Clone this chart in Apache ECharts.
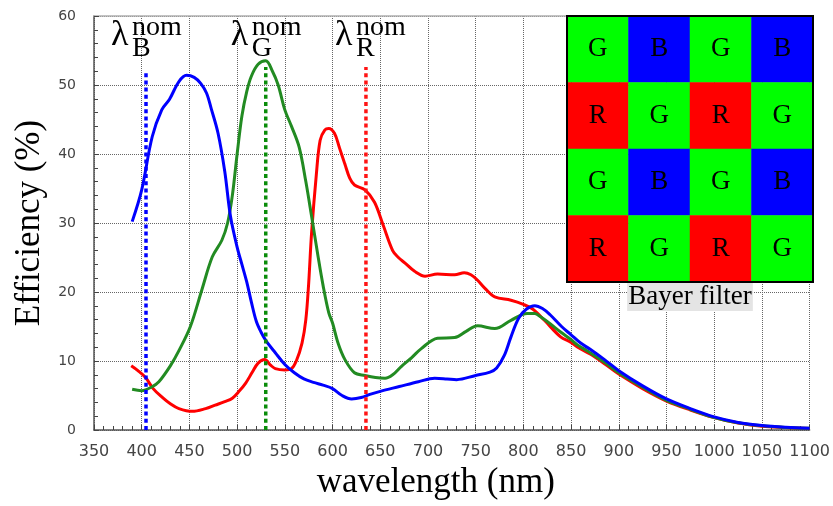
<!DOCTYPE html>
<html><head><meta charset="utf-8">
<script src="https://cdn.jsdelivr.net/npm/echarts@6/dist/echarts.min.js"></script>
<style>html,body{margin:0;padding:0;background:#fff}#c{width:833px;height:506px}</style>
</head><body><div id="c"></div>
<script>
// ---- data ----
const xTicks = [350,400,450,500,550,600,650,700,750,800,850,900,950,1000,1050,1100];
const yTicks = [0,10,20,30,40,50,60];

const blueNm  = [390,400,411,421,429,439,447,455,462,468,473,480,487,493,500,505,510,515,520,525,530,540,550,560,570,580,590,600,610,620,630,640,650,670,690,707,720,730,750,765,772,780,787,795,803,812,820,828,840,850,860,870,885,900,925,950,975,1000,1025,1050,1075,1100];
const blueEff = [30.2,34.8,42.5,46.4,47.9,50.5,51.4,51.1,50.2,48.8,46.5,43,37.5,31,26.5,24,21.5,18.5,15.8,14.2,13.0,11.2,9.5,8.3,7.4,6.9,6.5,6.0,5.0,4.5,4.7,5.2,5.6,6.3,7.0,7.5,7.4,7.3,7.9,8.4,9.0,10.8,13.5,16.2,17.5,18.0,17.6,16.7,15.0,13.8,12.6,11.7,10.2,8.6,6.4,4.5,3.1,1.9,1.1,0.65,0.4,0.25];

const greenNm  = [390,400,410,418,430,439,451,463,474,484,490,495,500,505,510,515,522,530,537,543,550,557,565,572,578,585,590,596,600,606,613,623,634,645,655,663,672,683,693,710,728,740,752,770,787,804,812,818,828,839,850,857,870,885,900,925,950,975,1000,1025,1050,1075,1100];
const greenEff = [5.9,5.7,6.2,7.0,9.3,11.5,15.0,20.3,25.1,27.5,30,34,40,45.5,49,51.3,53,53.5,52,50,46.4,44,41,36,31,25,21,17,15.5,12.5,10.2,8.3,7.9,7.6,7.5,8.0,9.2,10.5,11.8,13.3,13.4,14.3,15.1,14.7,15.9,16.9,16.9,16.4,15.4,14.2,13.1,12.3,11.2,9.8,8.3,6.2,4.3,3.0,1.8,1.05,0.6,0.38,0.25];

const redNm  = [389,396,404,412,421,430,439,453,467,477,487,495,502,509,516,522,529,535,540,550,557,562,568,572,575,578,583,587,592,596,602,607,613,618,623,634,644,653,663,669,676,686,697,710,728,738,745,752,760,770,787,800,810,822,839,850,857,870,885,900,925,950,975,1000,1025,1050,1075,1100];
const redEff = [9.3,8.6,7.6,6.0,4.8,3.8,3.1,2.7,3.1,3.6,4.1,4.6,5.6,6.8,8.4,9.7,10.2,9.4,8.9,8.7,8.9,10.0,12.6,16,21.3,28.5,37,42,43.5,43.7,43,41,38.5,36.5,35.5,34.8,33,29.7,26,25,24.2,23,22.3,22.6,22.5,22.8,22.5,21.7,20.5,19.3,18.8,18.2,17.5,15.9,13.5,12.7,12.0,11.0,9.6,8.1,6.0,4.2,2.9,1.8,1.0,0.55,0.35,0.2];

const nomNames = ['B','G','R'];
const nomNm    = [404.5, 530, 635];
const nomTop   = [52, 52.6, 52.6];

const bayerRows = ['GBGB','RGRG','GBGB','RGRG'];
const bayerCols = ['c1','c2','c3','c4'];
const bayerRowCats = ['r1','r2','r3','r4'];

// ---- styles ----
const C = {B:'#0000ff', G:'#228b22', R:'#ff0000'};
const dotC = {B:'#0000ff', G:'#0a8c0a', R:'#ff1414'};
const cellC = {B:'#0000ff', G:'#00ff00', R:'#ff0000'};
const zip = (a,b)=>a.map((v,i)=>[v,b[i]]);

const chart = echarts.init(document.getElementById('c'), null, {renderer:'canvas'});

const heat = [];
bayerRows.forEach((row,ri)=>row.split('').forEach((ch,ci)=>{
  heat.push({value:[ci,ri,1], letter:ch, itemStyle:{color:cellC[ch]}});
}));

const series = [
  {type:'line', data:zip(redNm,redEff), smooth:0.35, symbol:'none', lineStyle:{color:C.R,width:3}, z:3},
  {type:'line', data:zip(greenNm,greenEff), smooth:0.35, symbol:'none', lineStyle:{color:C.G,width:3}, z:4},
  {type:'line', data:zip(blueNm,blueEff), smooth:0.35, symbol:'none', lineStyle:{color:C.B,width:3}, z:5},
];
nomNm.forEach((nm,i)=>{
  series.push({type:'line', data:[[nm,0],[nm,nomTop[i]]], symbol:'none', z:6,
    lineStyle:{color:dotC[nomNames[i]], width:3.5, type:[4,3.2]}});
});
series.push({type:'heatmap', xAxisIndex:2, yAxisIndex:1, data:heat, z:10,
  itemStyle:{borderWidth:0},
  label:{show:true, formatter:p=>p.data.letter, fontFamily:'Liberation Serif', fontSize:27, color:'#000'},
  emphasis:{disabled:true}});

const option = {
  animation:false,
  grid:[
    {left:94, right:20, top:16, bottom:76},
    {left:567, top:16, width:246, height:266, show:true, borderColor:'#000', borderWidth:2, backgroundColor:'transparent', z:11}
  ],
  xAxis:[
    {type:'value', gridIndex:0, min:350, max:1100, interval:50,
     name:'wavelength (nm)', nameLocation:'middle', nameGap:31,
     nameTextStyle:{fontFamily:'Liberation Serif', fontSize:35, color:'#000', padding:[0,32,0,0]},
     axisLine:{lineStyle:{color:'#555', width:1.5}},
     axisTick:{show:true, inside:true, length:5, lineStyle:{color:'#444'}},
     minorTick:{show:true, splitNumber:5, length:4, lineStyle:{color:'#444'}},
     axisLabel:{fontFamily:'DejaVu Sans', fontSize:16, color:'#444', margin:14, formatter:v=>String(v)},
     splitLine:{show:true, lineStyle:{color:'#666', type:'dotted', width:1}}},
    {type:'value', gridIndex:0, position:'top', min:350, max:1100,
     axisLine:{show:true, lineStyle:{color:'#b0b0b0', width:1.5}},
     axisTick:{show:false}, axisLabel:{show:false}, splitLine:{show:false}},
    {type:'category', gridIndex:1, data:bayerCols, position:'bottom',
     name:'Bayer filter', nameLocation:'middle', nameGap:1,
     nameTextStyle:{fontFamily:'Liberation Serif', fontSize:27, color:'#000', backgroundColor:'#e4e4e4', padding:[0,1,0,1], lineHeight:28},
     axisLine:{show:false}, axisTick:{show:false}, axisLabel:{show:false}, splitLine:{show:false}}
  ],
  yAxis:[
    {type:'value', gridIndex:0, min:0, max:60, interval:10,
     name:'Efficiency (%)', nameLocation:'middle', nameGap:44,
     nameTextStyle:{fontFamily:'Liberation Serif', fontSize:35, color:'#000'},
     axisLine:{show:true, lineStyle:{color:'#555', width:1.5}},
     axisTick:{show:true, inside:true, length:5, lineStyle:{color:'#444'}},
     minorTick:{show:true, splitNumber:5, length:4, lineStyle:{color:'#444'}},
     axisLabel:{fontFamily:'DejaVu Sans', fontSize:14, color:'#444', margin:18},
     splitLine:{show:true, lineStyle:{color:'#666', type:'dotted', width:1}}},
    {type:'category', gridIndex:1, data:bayerRowCats, inverse:true, show:false}
  ],
  series
};
chart.setOption(option);

// lambda annotations positioned through the x axis scale
const lamOff = [-35,-35,-31];
const graphic = [];
nomNm.forEach((nm,i)=>{
  const px = chart.convertToPixel({xAxisIndex:0}, nm);
  const x0 = px + lamOff[i];
  graphic.push({type:'text', x:x0, y:36, z:20, style:{text:'λ', font:'36px "Liberation Serif"', fill:'#000', textVerticalAlign:'middle', textAlign:'left'}});
  graphic.push({type:'text', x:x0+21, y:28, z:20, style:{text:'nom', font:'28px "Liberation Serif"', fill:'#000', textVerticalAlign:'middle', textAlign:'left'}});
  graphic.push({type:'text', x:x0+21, y:49, z:20, style:{text:nomNames[i], font:'28px "Liberation Serif"', fill:'#000', textVerticalAlign:'middle', textAlign:'left'}});
});
chart.setOption({graphic});
</script>
</body></html>
